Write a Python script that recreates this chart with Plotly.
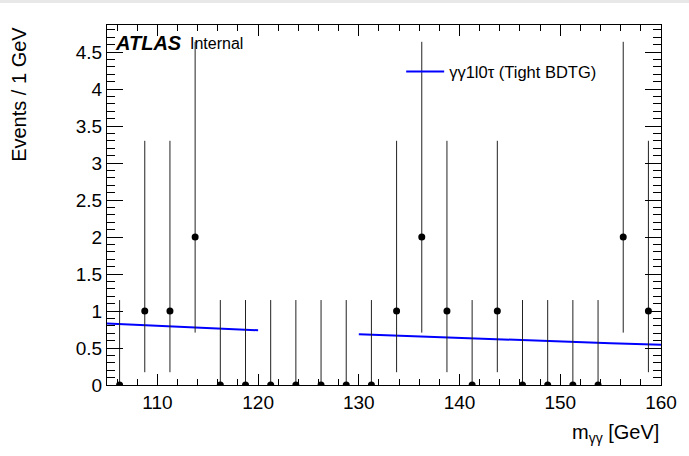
import plotly.graph_objects as go

# Diphoton invariant mass spectrum, 2.5 GeV bins
bin_centers = [106.25, 108.75, 111.25, 113.75, 116.25, 118.75, 121.25, 123.75,
               126.25, 128.75, 131.25, 133.75, 136.25, 138.75, 141.25, 143.75,
               146.25, 148.75, 151.25, 153.75, 156.25, 158.75]
counts = [0, 1, 1, 2, 0, 0, 0, 0, 0, 0, 0, 1, 2, 1, 0, 1, 0, 0, 0, 0, 2, 1]

# Poisson (Garwood) intervals keyed by observed count
poisson_up = {0: 1.148, 1: 2.300, 2: 2.638}
poisson_down = {0: 0.0, 1: 0.827, 2: 1.292}
err_up = [poisson_up[c] for c in counts]
err_down = [poisson_down[c] for c in counts]

# Background fit in the sidebands
fit_lo_x = [105, 107.5, 110, 112.5, 115, 117.5, 120]
fit_lo_y = [0.830, 0.815, 0.800, 0.785, 0.770, 0.755, 0.740]
fit_hi_x = [130, 135, 140, 145, 150, 155, 160]
fit_hi_y = [0.685, 0.659, 0.634, 0.610, 0.586, 0.564, 0.543]

FONT = "Liberation Sans, Arial, Helvetica, sans-serif"

fig = go.Figure()

fig.add_trace(go.Scatter(
    x=fit_lo_x, y=fit_lo_y, mode="lines",
    line=dict(color="#0000ff", width=2),
    name="γγ1l0τ (Tight BDTG)", showlegend=True,
))
fig.add_trace(go.Scatter(
    x=fit_hi_x, y=fit_hi_y, mode="lines",
    line=dict(color="#0000ff", width=2),
    showlegend=False,
))
fig.add_trace(go.Scatter(
    x=bin_centers, y=counts, mode="markers",
    marker=dict(color="black", size=7),
    error_y=dict(type="data", symmetric=False, array=err_up,
                 arrayminus=err_down, width=0, thickness=1, color="#222222"),
    showlegend=False,
))

axis_common = dict(
    showline=True, linecolor="black", linewidth=1, mirror="allticks",
    ticks="inside", tickcolor="black", tickwidth=1,
    showgrid=False, zeroline=False,
    tickfont=dict(family=FONT, size=19, color="black"),
)

fig.update_xaxes(
    range=[105, 160], tick0=110, dtick=10, ticklen=11,
    minor=dict(ticks="inside", dtick=2, tick0=104, ticklen=6,
               tickcolor="black", showgrid=False),
    **axis_common,
)
fig.update_yaxes(
    range=[0, 4.865], tick0=0, dtick=0.5, ticklen=16,
    minor=dict(ticks="inside", dtick=0.1, ticklen=8,
               tickcolor="black", showgrid=False),
    **axis_common,
)

fig.update_layout(
    width=689, height=456,
    margin=dict(l=107, r=28, t=25, b=71),
    paper_bgcolor="white", plot_bgcolor="white",
    font=dict(family=FONT, color="black"),
    legend=dict(
        x=0.531, y=0.87, xanchor="left", yanchor="middle",
        itemwidth=38,
        bgcolor="rgba(0,0,0,0)", borderwidth=0,
        font=dict(family=FONT, size=16.5, color="black"),
    ),
    shapes=[dict(type="rect", xref="paper", yref="paper",
                 x0=-0.25, x1=1.1, y0=1.061, y1=1.0694,
                 fillcolor="#e8e8e8", line=dict(width=0), layer="below")],
    annotations=[
        dict(text="<b><i>ATLAS</i></b>", xref="paper", yref="paper",
             x=0.011, y=0.985, xanchor="left", yanchor="top", showarrow=False,
             font=dict(family=FONT, size=20, color="black")),
        dict(text="Internal", xref="paper", yref="paper",
             x=0.146, y=0.978, xanchor="left", yanchor="top", showarrow=False,
             font=dict(family=FONT, size=16, color="black")),
        dict(text="Events / 1 GeV", xref="paper", yref="paper",
             x=-0.16, y=1.0, xanchor="center", yanchor="top", textangle=-90,
             showarrow=False, font=dict(family=FONT, size=20, color="black")),
        dict(text="m<sub>γγ</sub> [GeV]", xref="paper", yref="paper",
             x=1.0, y=-0.095, xanchor="right", yanchor="top",
             showarrow=False, font=dict(family=FONT, size=20, color="black")),
    ],
)

fig.write_html("out.html")
